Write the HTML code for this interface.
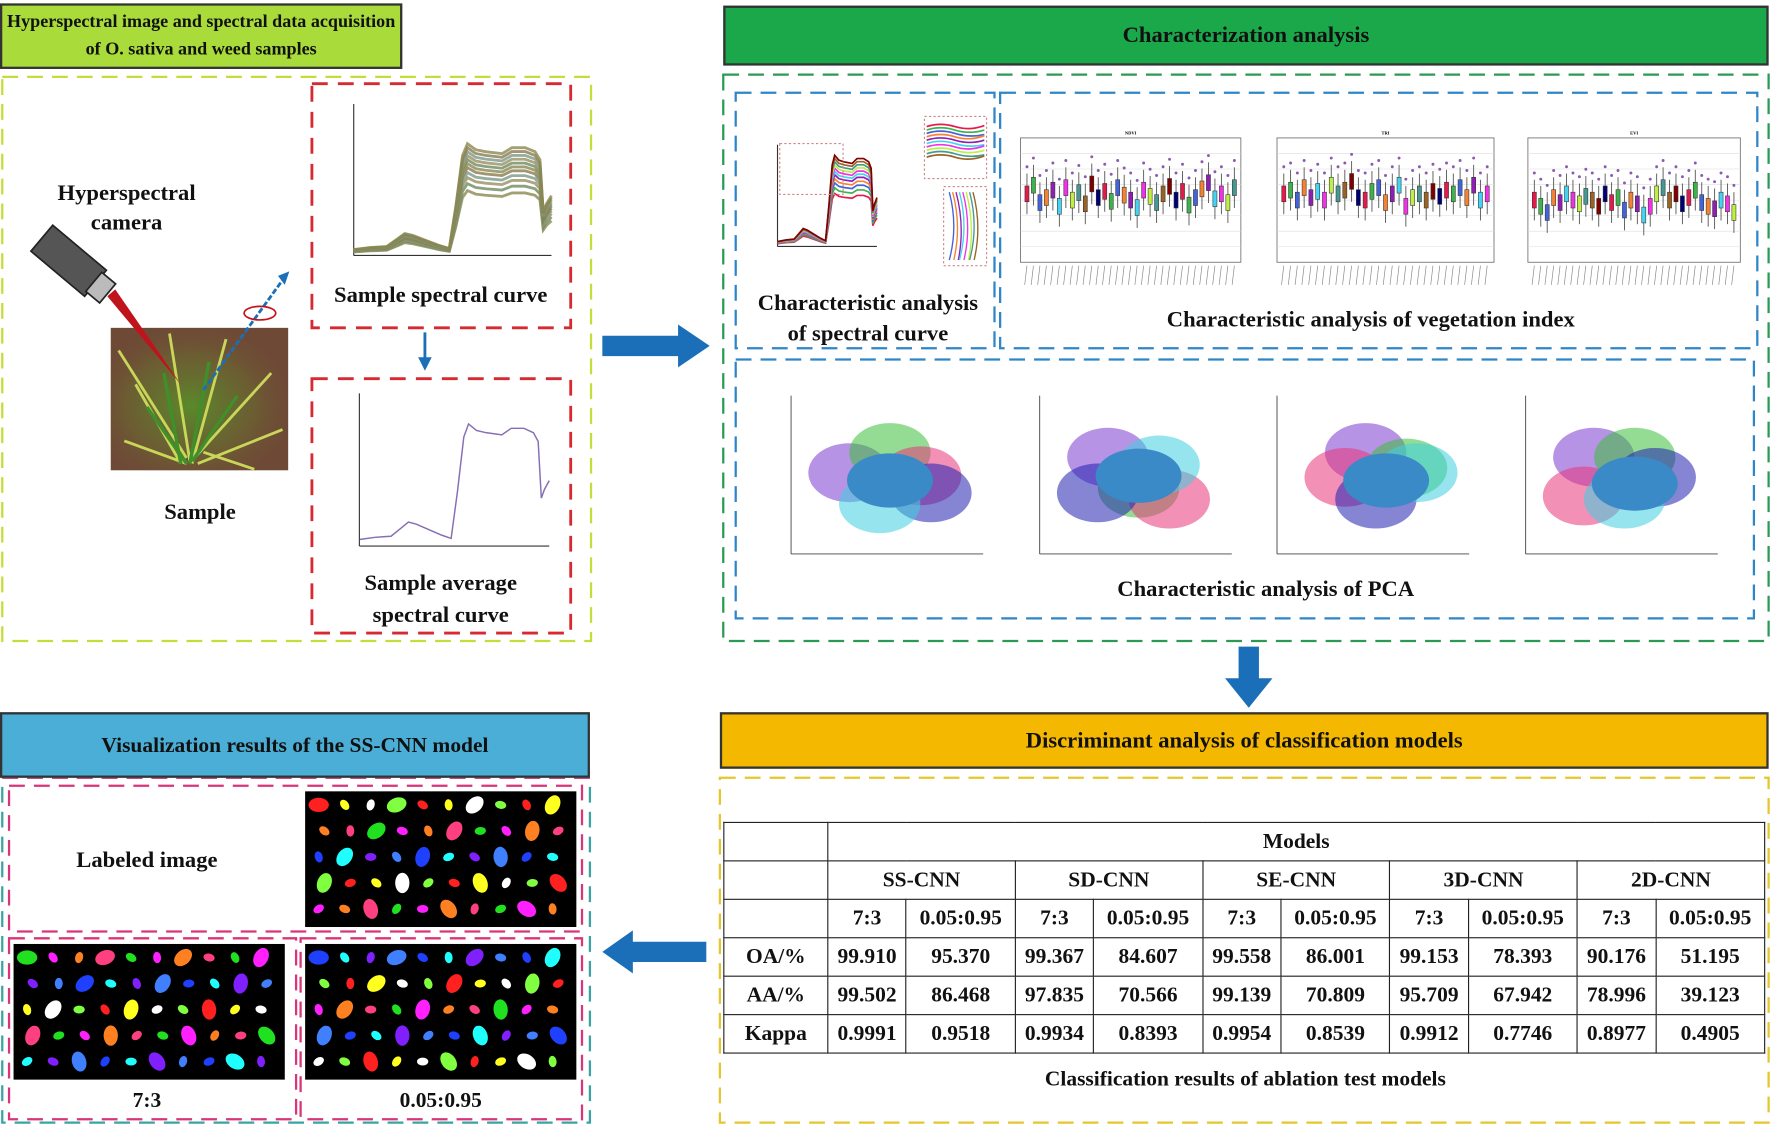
<!DOCTYPE html>
<html><head><meta charset="utf-8">
<style>
html,body{margin:0;padding:0;background:#fff;width:1772px;height:1126px;overflow:hidden}
#root{position:absolute;left:0;top:0;width:1568px;height:996px;transform:scale(1.1301,1.1305);transform-origin:0 0;font-family:"Liberation Serif",serif;font-weight:bold;color:#111}
.abs{position:absolute}
.t{position:absolute;text-align:center;white-space:nowrap;transform:translateX(-50%)}
.hdr{position:absolute;border:2px solid #333;box-sizing:border-box;display:flex;align-items:center;justify-content:center;text-align:center;font-size:19px;line-height:25px;white-space:nowrap}
table{border-collapse:collapse;font-family:"Liberation Serif",serif;font-weight:bold;font-size:19px}
td{border:1.5px solid #222;text-align:center;padding:0;height:33px}
</style></head><body>
<div id="root">

<div class="hdr" style="left:0;top:3px;width:356px;height:58px;background:#a9db3a;font-size:16px;line-height:24px">Hyperspectral image and spectral data acquisition<br>of O. sativa and weed samples</div>
<svg class="abs" style="left:0;top:0" width="1568" height="996">
 <rect x="2" y="68" width="521" height="499" fill="none" stroke="#c6dc3a" stroke-width="2" stroke-dasharray="14,8"/>
 <rect x="276" y="74" width="229" height="216" fill="none" stroke="#d62a30" stroke-width="2.5" stroke-dasharray="14,9"/>
 <rect x="276" y="335" width="229" height="225" fill="none" stroke="#d62a30" stroke-width="2.5" stroke-dasharray="14,9"/>
 <rect x="640" y="66" width="925" height="501" fill="none" stroke="#2a9a55" stroke-width="2" stroke-dasharray="14,8"/>
 <rect x="651" y="82" width="229" height="226" fill="none" stroke="#2e86c8" stroke-width="2" stroke-dasharray="14,8"/>
 <rect x="885" y="82" width="670" height="226" fill="none" stroke="#2e86c8" stroke-width="2" stroke-dasharray="14,8"/>
 <rect x="651" y="318" width="901" height="229" fill="none" stroke="#2e86c8" stroke-width="2" stroke-dasharray="14,8"/>
 <rect x="637" y="688" width="928" height="305" fill="none" stroke="#e6c62e" stroke-width="2" stroke-dasharray="14,8"/>
 <rect x="2" y="688" width="520" height="305" fill="none" stroke="#3aa3a3" stroke-width="2" stroke-dasharray="14,8"/>
 <line x1="2" y1="688" x2="522" y2="688" stroke="#d8357a" stroke-width="2" stroke-dasharray="14,8"/>
 <rect x="8" y="695" width="507" height="129" fill="none" stroke="#d8357a" stroke-width="2" stroke-dasharray="14,8"/>
 <rect x="8" y="830" width="254" height="160" fill="none" stroke="#d8357a" stroke-width="2" stroke-dasharray="14,8"/>
 <rect x="266" y="830" width="249" height="160" fill="none" stroke="#d8357a" stroke-width="2" stroke-dasharray="14,8"/>
 <polygon points="533,297 600,297 600,287 628,306 600,325 600,315 533,315" fill="#1a6fb8"/>
 <polygon points="1096,572 1114,572 1114,600 1126,600 1105,626 1084,600 1096,600" fill="#1a6fb8"/>
 <polygon points="625,833 560,833 560,823 533,842 560,861 560,851 625,851" fill="#1a6fb8"/>
 <line x1="376" y1="294" x2="376" y2="318" stroke="#1a6fb8" stroke-width="2.5"/>
 <polygon points="370,316 382,316 376,328" fill="#1a6fb8"/>
</svg>

<div class="t" style="left:112px;top:158px;font-size:20px;line-height:26px">Hyperspectral<br>camera</div>
<svg class="abs" style="left:0;top:0" width="530" height="570">
 <rect x="98" y="290" width="157" height="126" fill="#6e4a36"/>
 <rect x="98" y="290" width="157" height="126" fill="url(#g1)"/>
 <defs><radialGradient id="g1" cx="0.45" cy="0.55" r="0.6"><stop offset="0" stop-color="#5a8a2a"/><stop offset="0.6" stop-color="#6a6a30" stop-opacity="0.6"/><stop offset="1" stop-color="#6e4a36" stop-opacity="0"/></radialGradient></defs>
 <g stroke="#c9d65a" stroke-width="2.5" fill="none">
  <path d="M160,410 L120,340"/><path d="M165,410 L110,390"/><path d="M170,410 L200,300"/><path d="M172,405 L240,330"/><path d="M168,408 L150,295"/><path d="M175,410 L250,380"/><path d="M165,405 L105,310"/><path d="M180,400 L225,415"/>
 </g>
 <g stroke="#3f8f2a" stroke-width="3" fill="none"><path d="M160,410 L145,330"/><path d="M168,410 L185,320"/><path d="M165,410 L130,360"/><path d="M170,408 L210,350"/></g>
 <g transform="rotate(40 60 230)"><rect x="30" y="215" width="62" height="30" fill="#555" stroke="#222" stroke-width="1.5"/><rect x="90" y="219" width="16" height="22" fill="#bbb" stroke="#222" stroke-width="1.5"/></g>
 <polygon points="95,262 102,256 160,340" fill="#c0141c"/>
 <line x1="180" y1="345" x2="252" y2="245" stroke="#1a6fb8" stroke-width="2.5" stroke-dasharray="5,2"/>
 <polygon points="246,244 256,240 252,252" fill="#1a6fb8"/>
 <ellipse cx="230" cy="277" rx="14" ry="6" fill="none" stroke="#c0141c" stroke-width="1.5"/>
</svg>
<div class="t" style="left:177px;top:442px;font-size:20px">Sample</div>

<svg id="spec" class="abs" style="left:0;top:0" width="530" height="570"></svg>
<div class="t" style="left:390px;top:250px;font-size:20px">Sample spectral curve</div>
<div class="t" style="left:390px;top:502px;font-size:20px;line-height:28px">Sample average<br>spectral curve</div>

<div class="hdr" style="left:640px;top:5px;width:925px;height:53px;background:#1aa84a;font-size:20px">Characterization analysis</div>
<svg id="char" class="abs" style="left:0;top:0" width="1568" height="570"></svg>
<div class="t" style="left:768px;top:255px;font-size:20px;line-height:27px">Characteristic analysis<br>of spectral curve</div>
<div class="t" style="left:1213px;top:272px;font-size:20px">Characteristic analysis of vegetation index</div>
<div class="t" style="left:1120px;top:510px;font-size:20px">Characteristic analysis of PCA</div>

<div class="hdr" style="left:637px;top:630px;width:928px;height:50px;background:#f5b800;font-size:20px">Discriminant analysis of classification models</div>
<table class="abs" style="left:640px;top:727px;width:922px">
<colgroup><col style="width:92px"><col span="10"></colgroup>
<tr><td></td><td colspan="10">Models</td></tr>
<tr><td></td><td colspan="2">SS-CNN</td><td colspan="2">SD-CNN</td><td colspan="2">SE-CNN</td><td colspan="2">3D-CNN</td><td colspan="2">2D-CNN</td></tr>
<tr><td></td><td>7:3</td><td>0.05:0.95</td><td>7:3</td><td>0.05:0.95</td><td>7:3</td><td>0.05:0.95</td><td>7:3</td><td>0.05:0.95</td><td>7:3</td><td>0.05:0.95</td></tr>
<tr><td>OA/%</td><td>99.910</td><td>95.370</td><td>99.367</td><td>84.607</td><td>99.558</td><td>86.001</td><td>99.153</td><td>78.393</td><td>90.176</td><td>51.195</td></tr>
<tr><td>AA/%</td><td>99.502</td><td>86.468</td><td>97.835</td><td>70.566</td><td>99.139</td><td>70.809</td><td>95.709</td><td>67.942</td><td>78.996</td><td>39.123</td></tr>
<tr><td>Kappa</td><td>0.9991</td><td>0.9518</td><td>0.9934</td><td>0.8393</td><td>0.9954</td><td>0.8539</td><td>0.9912</td><td>0.7746</td><td>0.8977</td><td>0.4905</td></tr>
</table>
<div class="t" style="left:1102px;top:944px;font-size:19px">Classification results of ablation test models</div>

<div class="hdr" style="left:0;top:630px;width:522px;height:58px;background:#4aaed6;font-size:19px">Visualization results of the SS-CNN model</div>
<div class="t" style="left:130px;top:750px;font-size:20px">Labeled image</div>
<svg id="vis" class="abs" style="left:0;top:0" width="530" height="996"></svg>
<div class="t" style="left:130px;top:963px;font-size:19px">7:3</div>
<div class="t" style="left:390px;top:963px;font-size:19px">0.05:0.95</div>
</div>

<script>
const NS="http://www.w3.org/2000/svg";
function mk(p,tag,a){const e=document.createElementNS(NS,tag);for(const k in a)e.setAttribute(k,a[k]);p.appendChild(e);return e;}
const wavelengths=[400,450,500,530,555,580,620,660,690,710,730,745,770,800,850,880,920,950,965,975,985,1000];
const avgReflect=[0.03,0.04,0.045,0.08,0.11,0.10,0.075,0.05,0.035,0.25,0.50,0.56,0.53,0.52,0.51,0.54,0.54,0.52,0.48,0.22,0.26,0.30];
const sampleScales=[0.65,0.72,0.78,0.83,0.88,0.92,0.96,1.0,1.04,1.08,1.12];
const spec=document.getElementById('spec');
function specChart(x0,y0,w,h,ymax,series,colors,sw){
  mk(spec,'line',{x1:x0,y1:y0,x2:x0,y2:y0+h,stroke:'#333','stroke-width':1});
  mk(spec,'line',{x1:x0,y1:y0+h,x2:x0+w,y2:y0+h,stroke:'#333','stroke-width':1});
  const X=v=>x0+(v-400)/600*w, Y=v=>y0+h-v/ymax*h;
  series.forEach((s,i)=>{
    const l=mk(spec,'polyline',{points:wavelengths.map((wv,j)=>X(wv)+','+Y(s[j])).join(' '),fill:'none',stroke:colors[i%colors.length],'stroke-width':sw,'stroke-opacity':0.8});
    
    
  });
}
specChart(313,92,175,134,0.85,sampleScales.map(k=>avgReflect.map(v=>v*k)),['#8a8a50','#6f8a60','#9a9060','#7a9a8a','#8a7a50'],2.5);
specChart(318,348,168,135,0.7,[avgReflect],['#6a4aa0'],1.3);

const ch=document.getElementById('char');
const pal=['#e6194b','#3cb44b','#4363d8','#f58231','#911eb4','#42d4f4','#f032e6','#bfef45','#469990','#9a6324','#800000','#000075'];
(function(){
  const x0=688,y0=128,w=88,h=90;
  mk(ch,'line',{x1:x0,y1:y0,x2:x0,y2:y0+h,stroke:'#333'});mk(ch,'line',{x1:x0,y1:y0+h,x2:x0+w,y2:y0+h,stroke:'#333'});
  const X=v=>x0+(v-400)/600*w, Y=v=>y0+h-v/0.7*h;
  sampleScales.forEach((k,i)=>{
    const l=mk(ch,'polyline',{points:wavelengths.map((wv,j)=>X(wv)+','+Y(avgReflect[j]*k)).join(' '),fill:'none',stroke:pal[i%pal.length],'stroke-width':1.5});
    
    
  });
  mk(ch,'rect',{x:690,y:127,width:56,height:45,fill:'none',stroke:'#c88','stroke-dasharray':'2,2'});
  mk(ch,'rect',{x:818,y:103,width:55,height:55,fill:'none',stroke:'#c88','stroke-dasharray':'2,2'});
  for(let i=0;i<10;i++)mk(ch,'path',{d:`M820,${112+i*3} q12,-4 25,0 t26,${i%3-1}`,stroke:pal[i],fill:'none','stroke-width':1.5});
  mk(ch,'rect',{x:835,y:165,width:38,height:70,fill:'none',stroke:'#c88','stroke-dasharray':'2,2'});
  for(let i=0;i<8;i++)mk(ch,'path',{d:`M${840+i*3},170 q8,30 ${i%3},60`,stroke:pal[i+2],fill:'none','stroke-width':1.2});
})();
const ndviMedians=[0.55,0.62,0.48,0.52,0.58,0.45,0.6,0.5,0.56,0.47,0.63,0.52,0.57,0.49,0.6,0.54,0.5,0.44,0.58,0.53,0.48,0.55,0.61,0.5,0.57,0.46,0.52,0.59,0.64,0.51,0.55,0.48,0.6];
const triMedians=[0.55,0.58,0.5,0.6,0.52,0.57,0.5,0.62,0.55,0.58,0.65,0.52,0.5,0.57,0.6,0.48,0.55,0.62,0.45,0.52,0.55,0.5,0.57,0.53,0.58,0.55,0.6,0.52,0.62,0.5,0.55];
const eviMedians=[0.5,0.45,0.4,0.52,0.48,0.55,0.5,0.47,0.53,0.5,0.45,0.55,0.48,0.52,0.42,0.5,0.47,0.38,0.45,0.55,0.6,0.5,0.55,0.47,0.52,0.58,0.48,0.45,0.43,0.5,0.47,0.4];
const boxTitles=['NDVI','TRI','EVI'];
[[903,1098,ndviMedians],[1130,1322,triMedians],[1352,1540,eviMedians]].forEach(([x0,x1,meds],p)=>{
  const y0=122,y1=232;
  mk(ch,'rect',{x:x0,y:y0,width:x1-x0,height:y1-y0,fill:'#fff',stroke:'#777','stroke-width':0.8});
  for(let g=1;g<8;g++)mk(ch,'line',{x1:x0,y1:y0+g*(y1-y0)/8,x2:x1,y2:y0+g*(y1-y0)/8,stroke:'#ddd','stroke-width':0.5});
  const t=mk(ch,'text',{x:(x0+x1)/2,y:y0-3,'font-size':4,'text-anchor':'middle','font-family':'Liberation Serif'});t.textContent=boxTitles[p];
  const step=(x1-x0)/(meds.length+1);
  meds.forEach((m,i)=>{
    const cx=x0+step*(i+1), cy=y1-m*(y1-y0);
    mk(ch,'line',{x1:cx,y1:cy-18,x2:cx,y2:cy+18,stroke:'#555','stroke-width':0.8});
    const b=mk(ch,'rect',{x:cx-1.8,y:cy-7,width:3.6,height:14,fill:pal[i%pal.length],stroke:'#333','stroke-width':0.5});
    
    
    mk(ch,'circle',{cx:cx,cy:cy-24,r:1.3,fill:'#8a5ab0'});
    mk(ch,'line',{x1:cx,y1:y1+3,x2:cx-2,y2:y1+20,stroke:'#888','stroke-width':0.6});
  });
});
const pcaCenters=[[[-2,0.5],[0,1.8],[1.5,0.3],[2,-0.8],[-0.5,-1.5],[0,0]],
 [[-1.5,1.5],[0,-0.5],[1.5,-1.2],[-2,-0.8],[1,1],[0,0.3]],
 [[-0.5,1.8],[1.5,0.8],[-1.5,0.2],[0,-1.2],[2,0.5],[0.5,0]],
 [[-1.5,1.5],[0.5,1.5],[-2,-1],[1.5,0.2],[0,-1.2],[0.5,-0.2]]];
const pcaColors=['#7a3ad0','#3cc03c','#e8357a','#2020b0','#40d0e0','#3a8ac8'];
[[715,370],[935,370],[1145,370],[1365,370]].forEach(([ox,oy],p)=>{
  const w=145,h=110, X=v=>ox+(v+4)/8*w, Y=v=>oy+h/2-v/4*h/2;
  mk(ch,'line',{x1:ox-15,y1:oy-20,x2:ox-15,y2:oy+h+10,stroke:'#444','stroke-width':0.8});
  mk(ch,'line',{x1:ox-15,y1:oy+h+10,x2:ox+w+10,y2:oy+h+10,stroke:'#444','stroke-width':0.8});
  pcaCenters[p].forEach((c,i)=>{
    const last=i===pcaCenters[p].length-1;
    const e=mk(ch,'ellipse',{cx:X(c[0]),cy:Y(c[1]),rx:last?38:36,ry:last?24:26,fill:pcaColors[i],'fill-opacity':last?1:0.55});
    
    
  });
});

const vis=document.getElementById('vis');
const mapPal=['#ff2020','#20e020','#2040ff','#ffff20','#ff20ff','#20ffff','#ffffff','#ff8020','#8020ff','#80ff40','#ff4080','#4080ff'];
[[270,700,240,120],[12,835,240,120],[270,835,240,120]].forEach(([x,y,w,h],m)=>{
  mk(vis,'rect',{x:x,y:y,width:w,height:h,fill:'#000'});
  for(let r=0;r<5;r++)for(let c=0;c<10;c++){
    const k=(r*7+c*3+m)%mapPal.length;
    const s=(r+c)%3===0?9:5;
    mk(vis,'ellipse',{cx:x+12+c*23+(r%2)*5,cy:y+12+r*23,rx:s,ry:s*0.7,fill:mapPal[k],transform:`rotate(${(r*37+c*53)%180} ${x+12+c*23+(r%2)*5} ${y+12+r*23})`});
  }
});
</script>
</body></html>
